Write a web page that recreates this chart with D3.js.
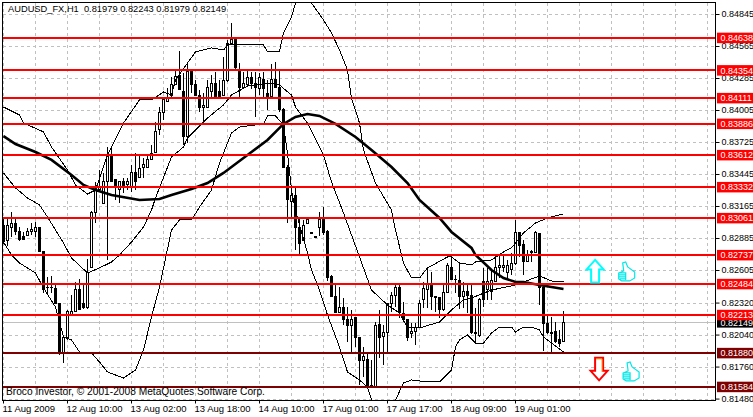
<!DOCTYPE html>
<html>
<head>
<meta charset="utf-8">
<title>AUDUSD_FX,H1</title>
<script src="https://cdnjs.cloudflare.com/ajax/libs/d3/7.8.5/d3.min.js"></script>
<style>
    html, body { margin: 0; padding: 0; background: #fff; }
    svg { display: block; }
    text { font-family: "Liberation Sans", sans-serif; font-size: 9.3px; fill: #000; white-space: pre; }
</style>
</head>
<body>
<svg id="chart" width="753" height="417"></svg>
<script>
const chartTitle = "AUDUSD_FX,H1  0.81979 0.82243 0.81979 0.82149";
const copyright = "Broco Investor, \u00a9 2001-2008 MetaQuotes Software Corp.";

const opens = [
    .82990,.82859,.82981,.83008,.82938,.82894,.82911,.82946,.82938,.82981,
    .82763,.82448,.82448,.82439,.82316,.81879,.82010,.82211,.82238,.82430,
    .82308,.82273,.82631,.83104,.83305,.83191,.83375,.83594,.83393,.83305,
    .83375,.83349,.83331,.83454,.83410,.83498,.83506,.83576,.83629,.83830,
    .83979,.84075,.84136,.84224,.84311,.84171,.83769,.84338,.84224,.84136,
    .84031,.84031,.84171,.84233,.84171,.84128,.84259,.84591,.84618,.84355,
    .84206,.84224,.84285,.84241,.84189,.84268,.84145,.84119,.84276,.84206,
    .84005,.83506,.83200,.83261,.82973,.82859,.83008,.82929,.82894,.82981,
    .83051,.82938,.82544,.82369,.82229,.82281,.82176,.82115,.82185,.82010,
    .81809,.81826,.81581,.81581,.82124,.82019,.82054,.82316,.82386,.82456,
    .82220,.82168,.82045,.82063,.82106,.82343,.82430,.82491,.82369,.82360,
    .82255,.82404,.82631,.82526,.82509,.82369,.82413,.82386,.82054,.82028,
    .82500,.82430,.82413,.82500,.82623,.82631,.82579,.82605,.82666,.82929,
    .82824,.82675,.82754,.82754,.82920,.82448,.82141,.82054,.82063,.81993,.81979
];
const highs = [
    .83060,.83051,.83112,.83051,.82981,.82938,.82973,.83016,.83025,.82981,
    .82763,.82544,.82553,.82474,.82316,.82010,.82255,.82386,.82500,.82526,
    .82474,.82701,.83121,.83375,.83480,.83454,.83681,.83681,.83393,.83384,
    .83410,.83410,.83524,.83629,.83603,.83585,.83603,.83699,.83900,.84031,
    .84110,.84198,.84294,.84355,.84521,.84329,.84416,.84338,.84268,.84180,
    .84154,.84268,.84311,.84338,.84268,.84469,.84618,.84766,.84618,.84416,
    .84338,.84346,.84338,.84338,.84329,.84338,.84268,.84408,.84425,.84346,
    .84023,.83524,.83305,.83331,.83060,.83043,.83051,.82929,.82894,.83112,
    .83156,.82955,.82561,.82474,.82456,.82360,.82281,.82255,.82185,.82019,
    .81931,.81870,.81818,.82150,.82255,.82124,.82308,.82413,.82474,.82474,
    .82325,.82168,.82141,.82141,.82343,.82500,.82631,.82588,.82378,.82369,
    .82474,.82666,.82719,.82561,.82666,.82500,.82491,.82474,.82273,.82360,
    .82623,.82623,.82605,.82736,.82736,.82736,.82693,.82754,.83043,.82938,
    .82868,.82780,.82780,.82946,.82920,.82465,.82203,.82194,.82150,.82080,.82243
];
const lows = [
    .82833,.82815,.82894,.82911,.82859,.82868,.82911,.82911,.82894,.82763,
    .82404,.82404,.82404,.82316,.81861,.81791,.81993,.82211,.82238,.82255,
    .82264,.82264,.82623,.83016,.83288,.83191,.82693,.83375,.83218,.83191,
    .83279,.83305,.83288,.83305,.83410,.83410,.83498,.83568,.83629,.83786,
    .83918,.84075,.84110,.84224,.84180,.83699,.83716,.84154,.84128,.83987,
    .83891,.84031,.84101,.84110,.84119,.84128,.84250,.84591,.84355,.84101,
    .84206,.84224,.84189,.83944,.84136,.84110,.84005,.84119,.84198,.83987,
    .83498,.83016,.83060,.82780,.82745,.82859,.83008,.82920,.82885,.82903,
    .82911,.82509,.82369,.82229,.82229,.82124,.81975,.81888,.81931,.81599,
    .81669,.81581,.81573,.81581,.81835,.81774,.81888,.82238,.82281,.82185,
    .82159,.81984,.82010,.81949,.82106,.82273,.82273,.82255,.82238,.82185,
    .82246,.82404,.82518,.82404,.82264,.82273,.82229,.82045,.81966,.82019,
    .82281,.82343,.82343,.82500,.82535,.82588,.82535,.82561,.82649,.82719,
    .82561,.82675,.82675,.82754,.82299,.81896,.82045,.81888,.81966,.81931,.81979
];
const closes = [
    .82850,.82990,.83008,.82946,.82876,.82876,.82938,.82955,.82981,.82771,
    .82430,.82456,.82456,.82316,.81879,.82010,.82238,.82238,.82430,.82255,
    .82273,.82579,.83104,.83305,.83323,.83375,.83594,.83375,.83331,.83375,
    .83331,.83375,.83454,.83375,.83489,.83524,.83568,.83620,.83813,.83979,
    .84093,.84110,.84224,.84294,.84180,.83769,.84338,.84224,.84128,.84031,
    .84040,.84198,.84233,.84119,.84119,.84259,.84591,.84618,.84373,.84206,
    .84233,.84285,.84233,.84198,.84285,.84189,.84119,.84268,.84206,.84005,
    .83498,.83218,.83253,.82973,.82841,.82990,.83051,.82920,.82885,.83043,
    .82929,.82535,.82369,.82229,.82281,.82168,.82115,.82176,.82010,.81809,
    .81844,.81590,.81590,.82115,.82010,.82054,.82308,.82386,.82456,.82229,
    .82168,.82010,.82063,.82106,.82316,.82439,.82491,.82369,.82360,.82255,
    .82404,.82640,.82526,.82518,.82369,.82413,.82386,.82054,.82045,.82351,
    .82351,.82500,.82509,.82623,.82640,.82640,.82640,.82666,.82929,.82815,
    .82675,.82736,.82763,.82929,.82448,.82141,.82054,.82045,.81975,.81966,.82149
];

const upperBars = [0,4,5,10,12,16,18,21,23,26,30,34,37,40,42,43,46,48,52,55,56,61,65,66,69,70,72,73,75,76,77,80,82,84,86,87,89,90,93,97,98,100,102,104,106,111,112,114,117,118,122,125,127,130,133,136,140];
const upperVals = [.84031,.83961,.83891,.83813,.83681,.83480,.83349,.83270,.83305,.83611,.83891,.84093,.84093,.84163,.84136,.84268,.84416,.84513,.84548,.84530,.84574,.84574,.84574,.84513,.84521,.84679,.84819,.84941,.85038,.85038,.84941,.84793,.84679,.84530,.84355,.84110,.83891,.83655,.83366,.83130,.82955,.82666,.82535,.82535,.82623,.82719,.82719,.82666,.82649,.82675,.82693,.82763,.82798,.82929,.83016,.83060,.83095];
const middleBars = [0,3,6,9,11,15,17,21,24,27,29,32,35,37,38,42,45,46,51,55,57,61,67,69,72,73,76,80,82,85,89,92,96,99,101,104,109,112,115,117,122,127,130,134,137,140];
const middleVals = [.83454,.83323,.83235,.83174,.83069,.82841,.82710,.82579,.82623,.82675,.82736,.82850,.82981,.83130,.83235,.83594,.83681,.83760,.83935,.84049,.84136,.84215,.84241,.84224,.84136,.84031,.83891,.83611,.83375,.83104,.82719,.82430,.82299,.82229,.82098,.82098,.82150,.82255,.82343,.82360,.82430,.82465,.82500,.82553,.82509,.82500];
const lowerBars = [0,2,4,8,10,13,15,17,19,22,24,26,30,33,35,37,39,42,44,47,49,52,54,57,59,65,66,68,70,71,72,73,74,76,77,79,81,84,86,89,91,92,94,96,98,100,102,106,109,112,113,114,116,118,120,122,124,127,128,130,132,134,135,137,140];
const lowerVals = [.82850,.82736,.82666,.82579,.82448,.82281,.82019,.81993,.81888,.81879,.81800,.81713,.81660,.81730,.81905,.82194,.82456,.82955,.83043,.83043,.83156,.83305,.83541,.83804,.83856,.83883,.83953,.83953,.83874,.83629,.83305,.83130,.82999,.82754,.82605,.82430,.82211,.81931,.81713,.81643,.81581,.81468,.81363,.81363,.81468,.81616,.81643,.81625,.81625,.81730,.81931,.81993,.82036,.81966,.81966,.82054,.82106,.82106,.82063,.82106,.82106,.82080,.82019,.81966,.81888];
const maBars = [0,3,8,12,17,20,23,27,34,39,42,47,51,55,61,66,70,73,76,79,83,88,92,97,101,104,109,112,117,118,122,125,128,130,134,140];
const maVals = [.83777,.83707,.83637,.83568,.83436,.83349,.83305,.83261,.83218,.83226,.83261,.83314,.83366,.83454,.83611,.83743,.83883,.83944,.83970,.83953,.83883,.83769,.83655,.83506,.83366,.83218,.83060,.82938,.82798,.82736,.82605,.82535,.82500,.82500,.82474,.82439];

// horizontal support / resistance levels
const redLevels = [.84638, .84354, .84111, .83886, .83612, .83332, .83061, .82737, .82484, .82213];
const darkLevels = [.81880, .81584];
const bidPrice = .82149;

// axes
const priceTicks = [.84845, .84565, .84285, .84005, .83725, .83445, .83165, .82885, .82605, .82320, .82040, .81760, .81480];
const timeBars = [0, 16, 32, 48, 64, 80, 96, 112, 128];
const timeLabels = ["11 Aug 2009", "12 Aug 10:00", "13 Aug 02:00", "13 Aug 18:00", "14 Aug 10:00", "17 Aug 01:00", "17 Aug 17:00", "18 Aug 09:00", "19 Aug 01:00"];

// signals to the right of the last bar: [bar, price]
const upArrow = [147.9, .82597];
const downArrow = [148.9, .81740];
const thumbs = [[155.8, .82588], [156.9, .81713]];

const fmt = d3.format(".5f");
const svg = d3.select("#chart");
const margin = {top: 2.5, right: 715.5, bottom: 400.5, left: 2.5};

const x = d3.scaleLinear().domain([0, 140]).range([3.5, 563.5]);
const y = d3.scaleLinear().domain([.84845, .81480]).range([14, 398.57]);

svg.append("defs").append("clipPath").attr("id", "plot")
    .append("rect")
    .attr("x", margin.left)
    .attr("y", margin.top)
    .attr("width", margin.right - margin.left)
    .attr("height", margin.bottom - margin.top);

// grid
const grid = svg.append("g").attr("stroke", "#c0c0c0").attr("stroke-dasharray", "3,3").attr("shape-rendering", "crispEdges");
grid.selectAll(".v").data(d3.range(0, 177, 8)).enter().append("line")
    .attr("x1", d => x(d)).attr("x2", d => x(d))
    .attr("y1", margin.top).attr("y2", margin.bottom);
grid.selectAll(".h").data(priceTicks).enter().append("line")
    .attr("x1", margin.left).attr("x2", margin.right)
    .attr("y1", d => Math.round(y(d)) + .5).attr("y2", d => Math.round(y(d)) + .5);

const plot = svg.append("g").attr("clip-path", "url(#plot)");

plot.append("line")
    .attr("x1", margin.left).attr("x2", margin.right)
    .attr("y1", y(bidPrice)).attr("y2", y(bidPrice))
    .attr("stroke", "#c0c0c0")
    .attr("shape-rendering", "crispEdges");

// candles
const candles = plot.append("g").attr("shape-rendering", "crispEdges")
    .selectAll("g").data(opens).enter().append("g");

candles.append("line")
    .attr("x1", (_, i) => x(i)).attr("x2", (_, i) => x(i))
    .attr("y1", (_, i) => y(highs[i])).attr("y2", (_, i) => y(lows[i]))
    .attr("stroke", "#000");

candles.append("rect")
    .attr("x", (_, i) => x(i) - 1)
    .attr("width", 2)
    .attr("y", (d, i) => y(Math.max(d, closes[i])))
    .attr("height", (d, i) => Math.max(0, y(Math.min(d, closes[i])) - y(Math.max(d, closes[i]))))
    .attr("fill", (d, i) => closes[i] > d ? "#fff" : "#000")
    .attr("stroke", "#000");

// indicators
const line = (bars, vals) => d3.line().x((_, i) => x(bars[i])).y(d => y(d))(vals);

[[upperBars, upperVals], [middleBars, middleVals], [lowerBars, lowerVals]].forEach(s => {
    plot.append("path")
        .attr("d", line(s[0], s[1]))
        .attr("fill", "none")
        .attr("stroke", "#000")
        .attr("stroke-width", 1)
        .attr("shape-rendering", "crispEdges");
});

plot.append("path")
    .attr("d", line(maBars, maVals))
    .attr("fill", "none")
    .attr("stroke", "#000")
    .attr("stroke-width", 2.6);

// levels
const levels = redLevels.map(d => ({p: d, c: "#ff0000"})).concat(darkLevels.map(d => ({p: d, c: "#7f0000"})));

plot.selectAll(".level").data(levels).enter().append("line")
    .attr("x1", margin.left).attr("x2", margin.right)
    .attr("y1", d => y(d.p)).attr("y2", d => y(d.p))
    .attr("stroke", d => d.c)
    .attr("stroke-width", 2)
    .attr("shape-rendering", "crispEdges");

// signals
const signals = svg.append("g").attr("fill", "#fff");

signals.append("path")
    .attr("transform", "translate(" + x(upArrow[0]) + "," + y(upArrow[1]) + ")")
    .attr("d", "M0,-11L8.5,-1.5L4,-1.5L4,11.5L-4,11.5L-4,-1.5L-8.5,-1.5Z")
    .attr("stroke", "#00ffff")
    .attr("stroke-width", 2);

signals.append("path")
    .attr("transform", "translate(" + x(downArrow[0]) + "," + y(downArrow[1]) + ")")
    .attr("d", "M-4,-11L4,-11L4,2L8.5,2L0,11.5L-8.5,2L-4,2Z")
    .attr("stroke", "#ff0000")
    .attr("stroke-width", 2);

signals.append("path")
    .attr("transform", "translate(" + x(downArrow[0]) + "," + y(downArrow[1]) + ")")
    .attr("d", "M3,3L3,-10L-3,-10")
    .attr("fill", "none")
    .attr("stroke", "#ff9000")
    .attr("stroke-width", 1);

signals.selectAll(".thumb").data(thumbs).enter().append("path")
    .attr("transform", d => "translate(" + x(d[0]) + "," + y(d[1]) + ")")
    .attr("d", "M-8,1L-3,-1L-4,-9L-1,-10L1,-5L8,0L8,6L3,9L-5,9L-8,7ZM-8,3L-1,3M-8,5L-1,5M-7,7L-1,7M-8,1L-1,1L-1,8")
    .attr("stroke", "#00e8e8")
    .attr("stroke-width", 1.2);

// frame
svg.append("rect")
    .attr("x", margin.left).attr("y", margin.top)
    .attr("width", margin.right - margin.left)
    .attr("height", margin.bottom - margin.top)
    .attr("fill", "none")
    .attr("stroke", "#000")
    .attr("shape-rendering", "crispEdges");

// axes
const yAxis = svg.append("g")
    .attr("transform", "translate(" + margin.right + ",0)")
    .call(d3.axisRight(y).tickValues(priceTicks).tickFormat(fmt).tickSize(4).tickPadding(2));
yAxis.select(".domain").remove();
yAxis.selectAll("text").style("font-size", "9px");

const xAxis = svg.append("g")
    .attr("transform", "translate(0," + margin.bottom + ")")
    .call(d3.axisBottom(x).offset(0).tickValues(timeBars).tickFormat((_, i) => timeLabels[i]).tickSize(3).tickPadding(2));
xAxis.select(".domain").remove();
xAxis.selectAll("text").attr("text-anchor", "start").attr("x", -1).style("font-size", "9.5px");

// price labels on the axis, bid first so the levels sit on top of it
const tags = svg.append("g");
[{p: bidPrice, c: "#000000"}].concat(levels).forEach(d => {
    tags.append("rect")
        .attr("x", 717).attr("width", 36)
        .attr("y", y(d.p) - 5).attr("height", 10.5)
        .attr("fill", d.c);
    tags.append("text")
        .attr("x", 720.5)
        .attr("y", y(d.p) + 3.5)
        .style("fill", "#fff")
        .style("font-size", "9px")
        .text(fmt(d.p));
});

svg.append("text").attr("x", 8).attr("y", 12).text(chartTitle);
svg.append("text").attr("x", 6).attr("y", 395).style("font-size", "10.2px").text(copyright);
</script>
</body>
</html>
